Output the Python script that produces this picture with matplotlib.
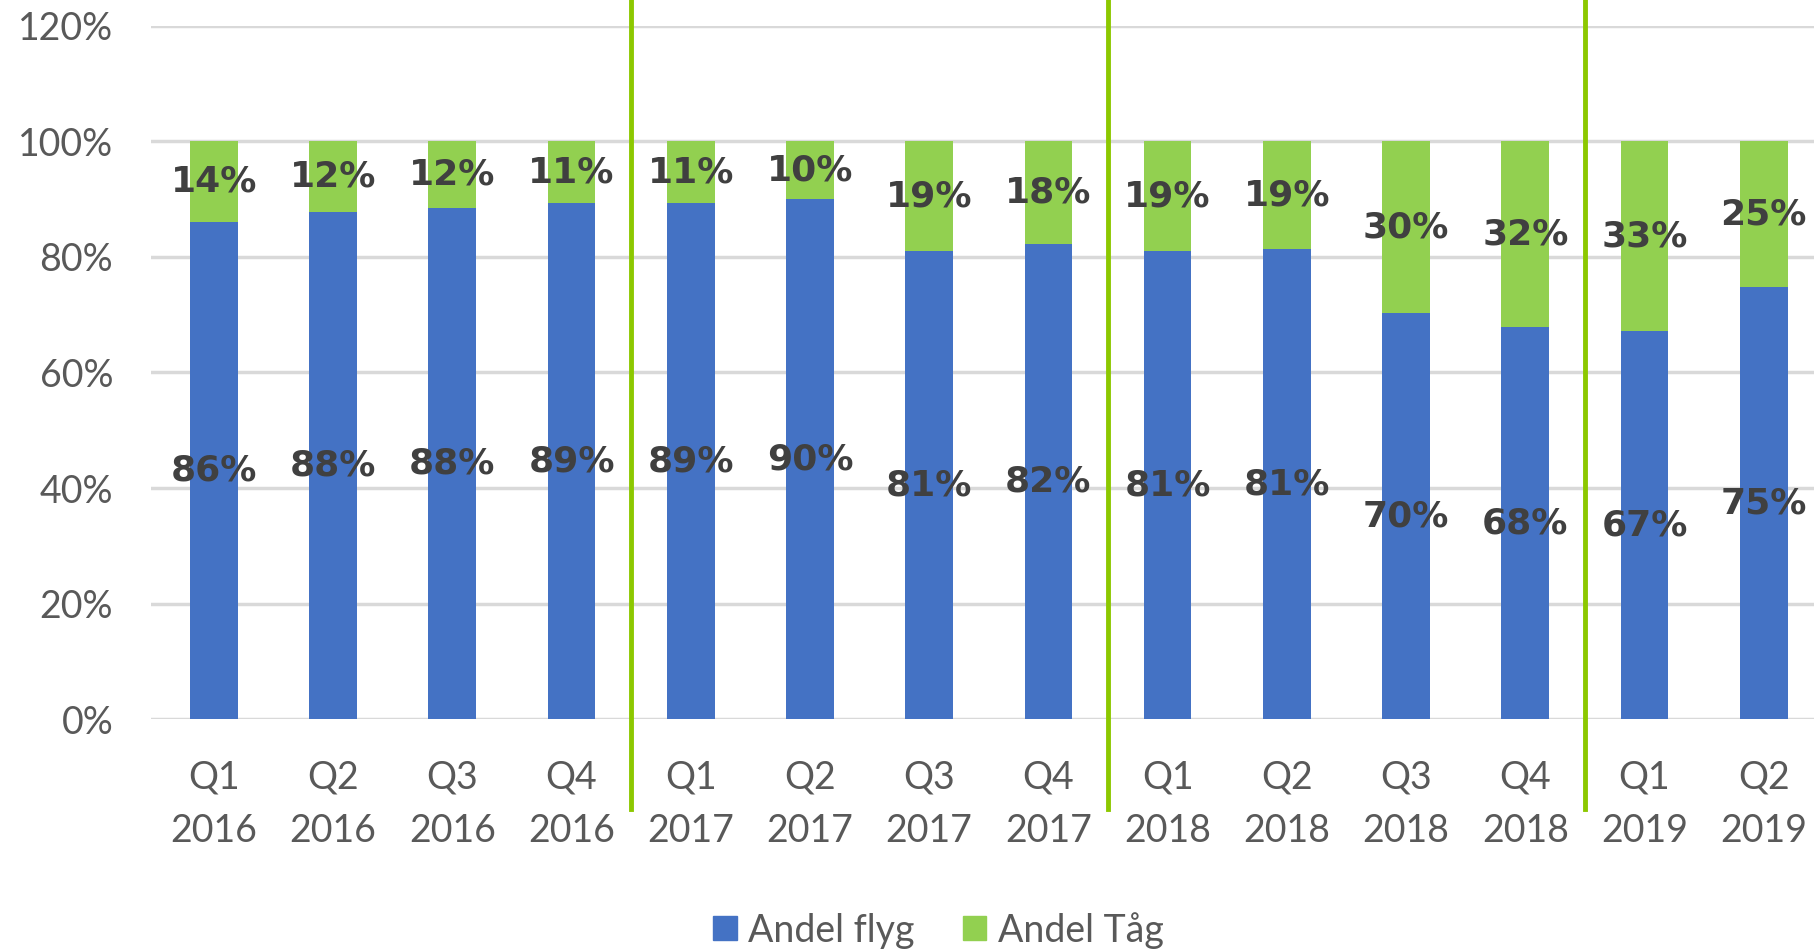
import numpy as np
import matplotlib
matplotlib.use("Agg")
import matplotlib.pyplot as plt
from matplotlib.patches import Patch

# data (share of trips, fraction)
quarters = ["Q1", "Q2", "Q3", "Q4", "Q1", "Q2", "Q3", "Q4",
            "Q1", "Q2", "Q3", "Q4", "Q1", "Q2"]
years = ["2016"] * 4 + ["2017"] * 4 + ["2018"] * 4 + ["2019"] * 2
andel_flyg = [0.86, 0.877, 0.884, 0.893, 0.893, 0.90, 0.81, 0.822,
              0.81, 0.814, 0.703, 0.678, 0.672, 0.748]
andel_tag = [1 - v for v in andel_flyg]
year_breaks = [3.5, 7.5, 11.5]
y_ticks = [0, 0.2, 0.4, 0.6, 0.8, 1.0, 1.2]

BLUE = "#4472C4"
GREEN = "#92D050"
LINE_GREEN = "#8CC800"
GRID = "#D9D9D9"
TICK = "#595959"
LABEL = "#404040"
TICK_FONT = "Lato"

fig = plt.figure(figsize=(18.15, 9.52), dpi=100)
ax = fig.add_axes([0.083, 0.2445, 0.917, 0.7285])

x = np.arange(len(quarters))
ax.bar(x, andel_flyg, width=0.4, color=BLUE, zorder=3)
ax.bar(x, andel_tag, width=0.4, bottom=andel_flyg, color=GREEN, zorder=3)

# labels centred in each segment
for xi, f, t in zip(x, andel_flyg, andel_tag):
    ax.text(xi, f / 2, f"{round(f * 100):d}%", ha="center", va="center",
            fontsize=26, fontweight="bold", color=LABEL, zorder=5)
    ax.text(xi, f + t / 2, f"{round(t * 100):d}%", ha="center", va="center",
            fontsize=26, fontweight="bold", color=LABEL, zorder=5)

# year separators, running past the plot area
for xb in year_breaks:
    ax.axvline(xb, ymin=-0.13, ymax=1.05, color=LINE_GREEN, lw=3.5,
               clip_on=False, zorder=4)

ax.set_xlim(-0.53, 13.43)
ax.set_ylim(0, 1.2)
ax.set_yticks(y_ticks)
ax.set_yticklabels([f"{int(round(v * 100))}%" for v in y_ticks],
                   fontsize=27, color=TICK, family=TICK_FONT)
ax.set_xticks(x)
ax.set_xticklabels([f"{q}\n{y}" for q, y in zip(quarters, years)],
                   fontsize=27, color=TICK, family=TICK_FONT, linespacing=1.6)
ax.tick_params(axis="y", length=0, pad=27)
ax.tick_params(axis="x", length=0, pad=29)

ax.grid(axis="y", color=GRID, lw=2.5, zorder=0)
for s in ax.spines.values():
    s.set_visible(False)

handles = [Patch(color=BLUE, label="Andel flyg"),
           Patch(color=GREEN, label="Andel Tåg")]
fig.legend(handles=handles, loc="center", bbox_to_anchor=(0.517, 0.023),
           ncol=2, frameon=False, handlelength=0.62, handleheight=0.62,
           handletextpad=0.3, columnspacing=1.3,
           prop={"family": TICK_FONT, "size": 27}, labelcolor=TICK)

fig.savefig("out.png", dpi=100)
